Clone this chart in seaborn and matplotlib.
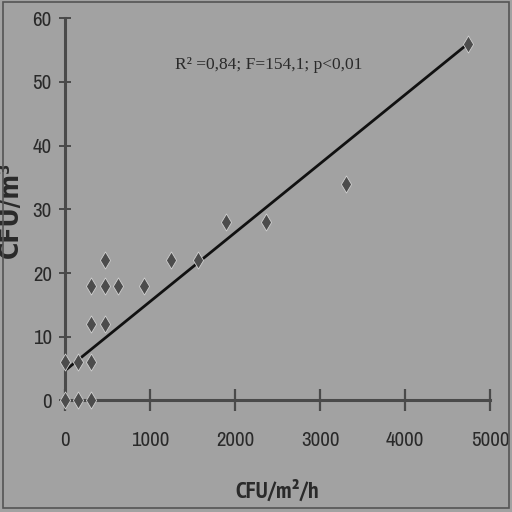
import matplotlib
matplotlib.use("Agg")
import matplotlib.pyplot as plt
import pandas as pd
import seaborn as sns
from matplotlib.patches import Rectangle

# ── Data ──────────────────────────────────────────────────────────────────────
deposition = [0, 150, 300, 0, 150, 300, 300, 470, 300, 470, 620, 925,
              470, 1250, 1565, 1895, 2365, 3305, 4740]
concentration = [0, 0, 0, 6, 6, 6, 12, 12, 18, 18, 18, 18,
                 22, 22, 22, 28, 28, 34, 56]
fit_x = [0, 4740]
fit_y = [4.7, 56]
x_ticks = [0, 1000, 2000, 3000, 4000, 5000]
y_ticks = [0, 10, 20, 30, 40, 50, 60]
stats_label = "R² =0,84; F=154,1; p<0,01"

BG = "#a2a2a2"
AXIS = "#4a4a4a"
INK = "#2a2a2a"

sns.set_theme(style="ticks")
plt.rcParams["font.family"] = ["Archivo Narrow", "DejaVu Sans"]

df = pd.DataFrame({"x": deposition, "y": concentration})
fit = pd.DataFrame({"x": fit_x, "y": fit_y})

fig = plt.figure(figsize=(5.12, 5.12), dpi=100, facecolor=BG)
ax = fig.add_axes([0.127, 0.2178, 0.830, 0.7465])
ax.set_facecolor(BG)

sns.lineplot(data=fit, x="x", y="y", color="#111111", linewidth=2.0, ax=ax)
sns.scatterplot(data=df, x="x", y="y", marker="d", s=75, color="#4c4c4c",
                edgecolor="#cfcfcf", linewidth=0.6, clip_on=False, zorder=5, ax=ax)

ax.set_xlim(0, 5000)
ax.set_ylim(0, 60)
ax.set_xticks(x_ticks)
ax.set_yticks(y_ticks)
sns.despine(ax=ax)
for side in ("left", "bottom"):
    ax.spines[side].set_color(AXIS)
    ax.spines[side].set_linewidth(2.2)

ax.tick_params(axis="x", direction="inout", length=16, width=1.6, color=AXIS,
               labelsize=15, labelcolor=INK, pad=14)
ax.tick_params(axis="y", direction="inout", length=9, width=1.4, color=AXIS,
               labelsize=15, labelcolor=INK, pad=5)

ax.set_xlabel("CFU/m²/h", fontsize=17, fontweight="bold", color=INK,
              family=["PT Sans Narrow", "DejaVu Sans"])
ax.set_ylabel("CFU/m³", fontsize=19, fontweight="bold", color=INK,
              family=["DejaVu Sans"], fontstretch="condensed")
ax.xaxis.set_label_coords(0.5, -0.21)
ax.yaxis.set_label_coords(-0.097, 0.5)

ax.text(1294, 52.7, stats_label, fontsize=12.5, color=INK,
        family=["Liberation Serif", "DejaVu Serif"], ha="left", va="center")

fig.patches.append(Rectangle((0.006, 0.008), 0.988, 0.988, transform=fig.transFigure,
                             fill=False, edgecolor="#555555", linewidth=1.2))

fig.savefig("out.png", dpi=100, facecolor=BG)
